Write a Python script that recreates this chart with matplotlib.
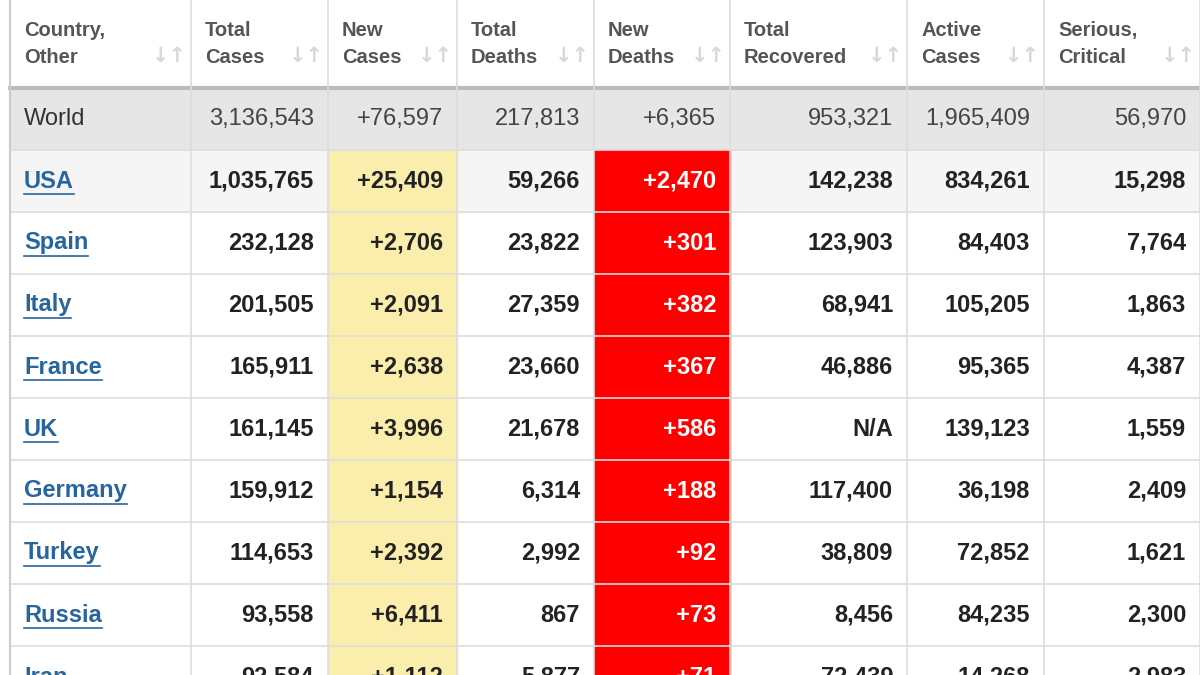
import matplotlib
matplotlib.use("Agg")
import matplotlib.pyplot as plt
from matplotlib.patches import Rectangle

headers = ["Country,\nOther", "Total\nCases", "New\nCases", "Total\nDeaths",
           "New\nDeaths", "Total\nRecovered", "Active\nCases", "Serious,\nCritical"]
world = ["World", "3,136,543", "+76,597", "217,813", "+6,365", "953,321",
         "1,965,409", "56,970"]
countries = ["USA", "Spain", "Italy", "France", "UK", "Germany", "Turkey", "Russia", "Iran"]
total_cases = ["1,035,765", "232,128", "201,505", "165,911", "161,145", "159,912",
               "114,653", "93,558", "92,584"]
new_cases = ["+25,409", "+2,706", "+2,091", "+2,638", "+3,996", "+1,154", "+2,392",
             "+6,411", "+1,112"]
total_deaths = ["59,266", "23,822", "27,359", "23,660", "21,678", "6,314", "2,992",
                "867", "5,877"]
new_deaths = ["+2,470", "+301", "+382", "+367", "+586", "+188", "+92", "+73", "+71"]
recovered = ["142,238", "123,903", "68,941", "46,886", "N/A", "117,400", "38,809",
             "8,456", "72,439"]
active = ["834,261", "84,403", "105,205", "95,365", "139,123", "36,198", "72,852",
          "84,235", "14,268"]
critical = ["15,298", "7,764", "1,863", "4,387", "1,559", "2,409", "1,621",
            "2,300", "2,983"]

col_x = [10, 191, 328, 457, 594, 730, 907, 1044, 1200]
head_h, world_h, row_h = 88, 62, 62

fig = plt.figure(figsize=(12, 6.75), dpi=100)
ax = fig.add_axes([0, 0, 1, 1])
ax.set_xlim(0, 1200)
ax.set_ylim(675, 0)
ax.axis("off")
font = "Liberation Sans"
grid = "#dddddd"

# header
for i, h in enumerate(headers):
    ax.text(col_x[i] + 14, head_h / 2, h, va="center", ha="left", fontsize=14.5,
            color="#555555", family=font, fontweight="bold", linespacing=1.55)
    ax.text(col_x[i + 1] - 22, 56, "↓↑", va="center", ha="center", fontsize=15,
            color="#d8d8d8", family="DejaVu Sans", fontweight="bold")
# world row
ax.add_patch(Rectangle((col_x[0], head_h), 1200, world_h, color="#e6e6e6"))
ax.plot([col_x[0], 1200], [head_h, head_h], color="#bbbbbb", lw=3)
for i, v in enumerate(world):
    y = head_h + world_h / 2
    if i == 0:
        ax.text(col_x[0] + 14, y, v, va="center", fontsize=17, color="#333333", family=font)
    else:
        ax.text(col_x[i + 1] - 14, y, v, va="center", ha="right", fontsize=17,
                color="#444444", family=font)

fig.canvas.draw()
renderer = fig.canvas.get_renderer()
inv = ax.transData.inverted()

cols = [total_cases, new_cases, total_deaths, new_deaths, recovered, active, critical]
top = head_h + world_h
for r, c in enumerate(countries):
    y0 = top + r * row_h
    yc = y0 + row_h / 2
    if r == 0:
        ax.add_patch(Rectangle((col_x[0], y0), 1200, row_h, color="#f5f5f5"))
    ax.add_patch(Rectangle((col_x[2], y0), col_x[3] - col_x[2], row_h, color="#fbeead"))
    ax.add_patch(Rectangle((col_x[4], y0), col_x[5] - col_x[4], row_h, color="#ff0000"))
    t = ax.text(col_x[0] + 14, yc, c, va="center", fontsize=17, color="#27659e",
                family=font, fontweight="bold")
    bb = t.get_window_extent(renderer)
    (x0, _), (x1, _) = inv.transform([(bb.x0, bb.y0), (bb.x1, bb.y0)])
    ax.plot([x0, x1], [yc + 13, yc + 13], color="#27659e", lw=1.2)
    for j, col in enumerate(cols):
        ax.text(col_x[j + 2] - 14, yc, col[r], va="center", ha="right", fontsize=17,
                color="white" if j == 3 else "#222222", family=font, fontweight="bold")
    ax.plot([col_x[0], 1200], [y0, y0], color=grid, lw=1.2)

for x in col_x:
    ax.plot([x, x], [0, 675], color=grid, lw=1.2)
ax.plot([col_x[0], col_x[0]], [0, 675], color="#cccccc", lw=1.5)

fig.savefig("out.png", dpi=100)
